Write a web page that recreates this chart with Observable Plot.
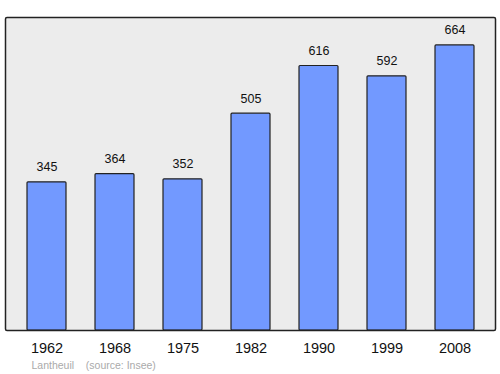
<!DOCTYPE html>
<html>
<head>
<meta charset="utf-8">
<script src="https://cdn.jsdelivr.net/npm/d3@7"></script>
<script src="https://cdn.jsdelivr.net/npm/@observablehq/plot@0.6"></script>
<style>
  html, body { margin: 0; padding: 0; background: #fff; }
  svg { font-family: "Liberation Sans", Arial, sans-serif; }
</style>
</head>
<body>
<div id="chart"></div>
<script>
const years = ["1962", "1968", "1975", "1982", "1990", "1999", "2008"];
const population = [345, 364, 352, 505, 616, 592, 664];
const captionText = ["Lantheuil    (source: Insee)"];

const data = years.map((y, i) => ({year: y, value: population[i]}));

const chart = Plot.plot({
  width: 500,
  height: 374,
  marginLeft: 5,
  marginRight: 5,
  marginTop: 17,
  marginBottom: 44,
  style: {fontFamily: "'Liberation Sans', Arial, sans-serif", background: "#fff"},
  x: {domain: years, paddingInner: 0.43, paddingOuter: 0.30, label: null},
  y: {domain: [0, 729], axis: null},
  marks: [
    Plot.frame({fill: "#ececec", stroke: null}),
    Plot.barY(data, {x: "year", y: "value", fill: "#7299ff", stroke: "#222", strokeWidth: 1.2, rx: 1}),
    Plot.text(data, {x: "year", y: "value", text: d => String(d.value), dy: -15, fontSize: 12.5, fill: "#111"}),
    Plot.frame({stroke: "#222", strokeWidth: 1.5, rx: 1.5}),
    Plot.axisX({tickSize: 0, tickPadding: 12, fontSize: 14.5, fill: "#111", label: null}),
    Plot.text(captionText, {frameAnchor: "bottom-left", text: d => d, dx: 26, dy: 38, fontSize: 10.5, fill: "#aaa", textAnchor: "start", xmlSpace: "preserve"})
  ]
});
document.getElementById("chart").appendChild(chart);
</script>
</body>
</html>
